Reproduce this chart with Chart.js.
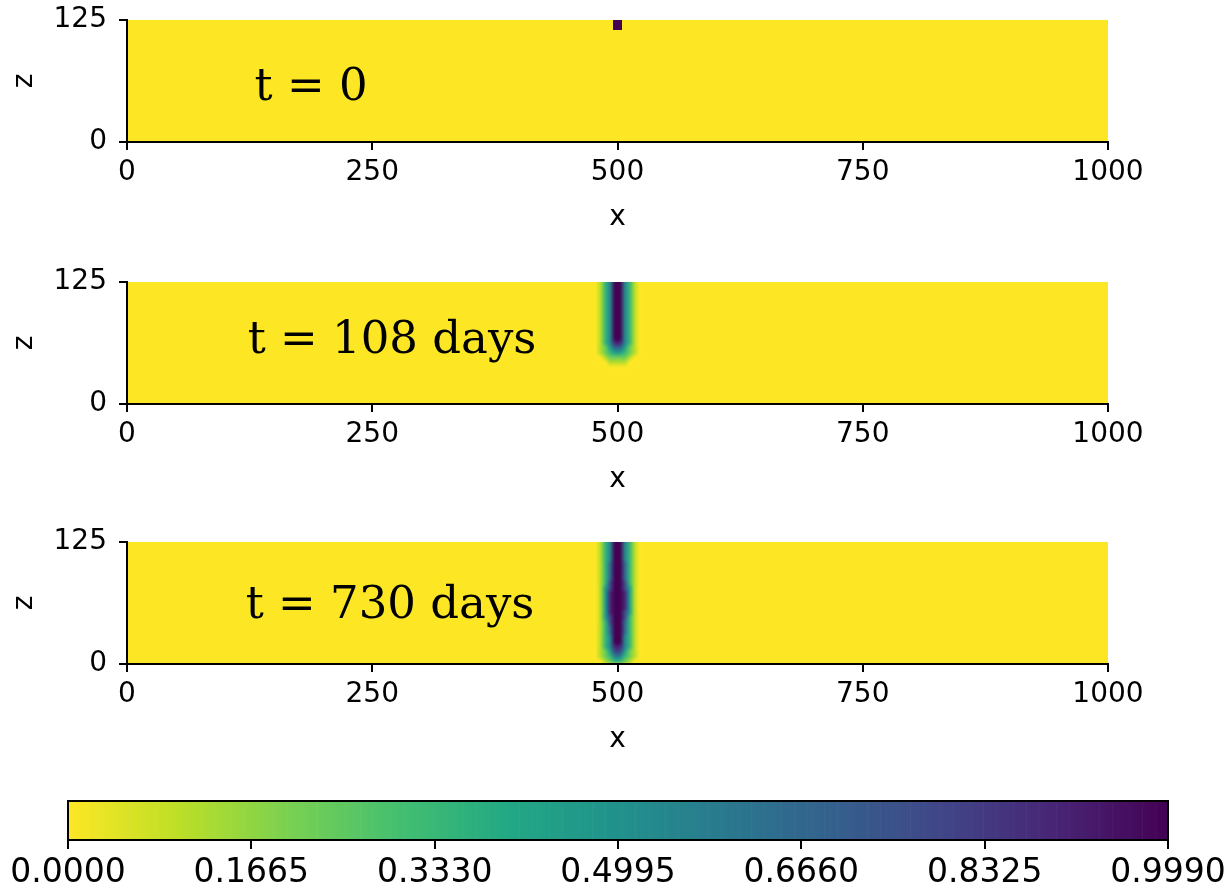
<!DOCTYPE html>
<html>
<head>
<meta charset="utf-8">
<script src="https://cdn.jsdelivr.net/npm/chart.js@4.4.1/dist/chart.umd.min.js"></script>
<style>
  html, body { margin: 0; padding: 0; background: #fff; }
  body { width: 1229px; height: 890px; position: relative; overflow: hidden; }
  .box { position: absolute; left: 0; width: 1229px; }
</style>
</head>
<body>
<div class="box" style="top:-9px;height:249px"><canvas id="panel0"></canvas></div>
<div class="box" style="top:253px;height:249px"><canvas id="panel1"></canvas></div>
<div class="box" style="top:513px;height:249px"><canvas id="panel2"></canvas></div>
<div class="box" style="top:780px;height:110px;width:1235px"><canvas id="colorbar"></canvas></div>
<script>
// axis ticks
const xTicks = [0, 250, 500, 750, 1000];
const zTicks = [0, 125];
const cbTicks = [0.0, 0.1665, 0.3330, 0.4995, 0.6660, 0.8325, 0.9990];

// panel annotations (text, position in data units: x of left edge, z of baseline)
const timeLabels = ['t = 0', 't = 108 days', 't = 730 days'];
const labelX = [130, 123, 121];
const labelZ = [43, 52, 47];

// plume cells near x = 500: columns start at x = 475, 5 units wide,
// rows go down from z = 125, 5 units high. Each digit is a level 0..9
// (0 = clean water, 9 = 0.999). Everything not listed is 0.
const plumeT0 = [
  '0000990000',
  '0000990000'
];
const plumeT108 = [
  '0135995310',
  '0135995310',
  '0135995310',
  '0135995310',
  '0135995310',
  '0135995310',
  '0135995310',
  '0135995310',
  '0135995310',
  '0135995310',
  '0135995310',
  '0135995310',
  '0135885310',
  '0124664210',
  '0123443210',
  '0012222100',
  '0001111000'
];
const plumeT730 = [
  '0135995310',
  '0135995310',
  '0135995310',
  '0135995310',
  '0136996310',
  '0136996310',
  '0136996310',
  '0136996310',
  '0137997310',
  '0147997410',
  '0148998410',
  '0148998410',
  '0148998410',
  '0148998410',
  '0148997410',
  '0147997310',
  '0137996310',
  '0136996310',
  '0136996310',
  '0135995310',
  '0135995310',
  '0135885310',
  '0124774210',
  '0123553210',
  '0012332100'
];
// interpolated drawing like imshow for the spread plumes, crisp for t = 0
const smoothPanels = [false, true, true];

const VMAX = 0.999;
const CELL_X0 = 475, CELL_W = 5, CELL_H = 5, Z_TOP = 125, GRID_COLS = 10;

// viridis, reversed below (0 -> yellow, VMAX -> dark purple)
const viridis = ['#440154', '#482475', '#414487', '#355f8d', '#2a788e', '#21918c',
                 '#22a884', '#44bf70', '#7ad151', '#bddf26', '#fde725'];

function hexToRgb(h) {
  return [parseInt(h.slice(1, 3), 16), parseInt(h.slice(3, 5), 16), parseInt(h.slice(5, 7), 16)];
}

function cmapRgb(v) {
  const t = 1 - Math.min(Math.max(v / VMAX, 0), 1);
  const p = t * (viridis.length - 1);
  const i = Math.min(Math.floor(p), viridis.length - 2);
  const f = p - i;
  const a = hexToRgb(viridis[i]), b = hexToRgb(viridis[i + 1]);
  return a.map((av, k) => Math.round(av + (b[k] - av) * f));
}

function cmap(v) {
  const c = cmapRgb(v);
  return `rgb(${c[0]},${c[1]},${c[2]})`;
}

function toCells(rows) {
  const cells = [];
  rows.forEach((row, r) => {
    row.split('').forEach((ch, c) => {
      const level = Number(ch);
      if (level === 0) return;
      cells.push({ x: CELL_X0 + c * CELL_W, y: Z_TOP - r * CELL_H, v: level / 9 * VMAX });
    });
  });
  return cells;
}

Chart.defaults.font.family = '"DejaVu Sans", sans-serif';
Chart.defaults.color = '#000';

// fill the field and the plume cells (drawn before the axes)
const heatmapPlugin = {
  id: 'heatmap',
  beforeDraw(chart, args, opts) {
    const { ctx, chartArea: a, scales: { x, y } } = chart;
    const cells = chart.data.datasets[0].data;
    ctx.save();
    ctx.beginPath();
    ctx.rect(a.left, a.top, a.right - a.left, a.bottom - a.top);
    ctx.clip();
    ctx.fillStyle = cmap(0);
    const bx0 = x.getPixelForValue(0), bx1 = x.getPixelForValue(1000);
    const by0 = y.getPixelForValue(125), by1 = y.getPixelForValue(0);
    ctx.fillRect(bx0, by0, bx1 - bx0, by1 - by0);

    if (opts.smooth) {
      // one pixel per cell, then scaled onto the axes with smoothing
      let nRows = 0;
      cells.forEach(d => { nRows = Math.max(nRows, Math.round((Z_TOP - d.y) / CELL_H) + 1); });
      nRows += 1;
      const off = document.createElement('canvas');
      off.width = GRID_COLS;
      off.height = nRows;
      const octx = off.getContext('2d');
      const img = octx.createImageData(GRID_COLS, nRows);
      const bg = cmapRgb(0);
      for (let k = 0; k < GRID_COLS * nRows; k++) {
        img.data[k * 4] = bg[0]; img.data[k * 4 + 1] = bg[1]; img.data[k * 4 + 2] = bg[2]; img.data[k * 4 + 3] = 255;
      }
      cells.forEach(d => {
        const c = Math.round((d.x - CELL_X0) / CELL_W);
        const r = Math.round((Z_TOP - d.y) / CELL_H);
        const rgb = cmapRgb(d.v);
        const k = (r * GRID_COLS + c) * 4;
        img.data[k] = rgb[0]; img.data[k + 1] = rgb[1]; img.data[k + 2] = rgb[2];
      });
      octx.putImageData(img, 0, 0);
      const px0 = x.getPixelForValue(CELL_X0);
      const px1 = x.getPixelForValue(CELL_X0 + GRID_COLS * CELL_W);
      const py0 = y.getPixelForValue(Z_TOP);
      const py1 = y.getPixelForValue(Z_TOP - nRows * CELL_H);
      ctx.imageSmoothingEnabled = true;
      ctx.imageSmoothingQuality = 'high';
      ctx.drawImage(off, px0, py0, px1 - px0, py1 - py0);
    } else {
      cells.forEach(d => {
        const x0 = Math.round(x.getPixelForValue(d.x));
        const x1 = Math.round(x.getPixelForValue(d.x + CELL_W));
        const y0 = Math.round(y.getPixelForValue(d.y));
        const y1 = Math.round(y.getPixelForValue(d.y - CELL_H));
        ctx.fillStyle = cmap(d.v);
        ctx.fillRect(x0, y0, x1 - x0, y1 - y0);
      });
    }
    ctx.restore();
  }
};

const timeLabelPlugin = {
  id: 'timeLabel',
  afterDraw(chart, args, opts) {
    const { ctx, scales: { x, y } } = chart;
    ctx.save();
    ctx.font = '45px "DejaVu Serif", serif';
    ctx.fillStyle = '#000';
    ctx.textAlign = 'left';
    ctx.textBaseline = 'alphabetic';
    ctx.fillText(opts.text, x.getPixelForValue(opts.x), y.getPixelForValue(opts.z));
    ctx.restore();
  }
};

function panelOptions(i) {
  return {
    responsive: true,
    maintainAspectRatio: false,
    animation: false,
    events: [],
    layout: { padding: { top: 28, right: 121, left: 0, bottom: 0 } },
    plugins: {
      legend: { display: false },
      tooltip: { enabled: false },
      heatmap: { smooth: smoothPanels[i] },
      timeLabel: { text: timeLabels[i], x: labelX[i], z: labelZ[i] }
    },
    scales: {
      x: {
        type: 'linear', min: 0, max: 1000,
        afterBuildTicks: s => { s.ticks = xTicks.map(v => ({ value: v })); },
        afterFit: s => { s.height = 98; },
        grid: { drawOnChartArea: false, tickLength: 8, color: '#000', lineWidth: 2 },
        border: { color: '#000', width: 2 },
        ticks: { padding: 6, font: { size: 28 }, color: '#000', maxRotation: 0, autoSkip: false,
                 callback: v => String(v) },
        title: { display: true, text: 'x', font: { size: 28 }, color: '#000', padding: { top: 0, bottom: 5 } }
      },
      y: {
        type: 'linear', min: 0, max: 125,
        afterBuildTicks: s => { s.ticks = zTicks.map(v => ({ value: v })); },
        afterFit: s => { s.width = 127; },
        grid: { drawOnChartArea: false, tickLength: 8, color: '#000', lineWidth: 2 },
        border: { color: '#000', width: 2 },
        ticks: { padding: 12, font: { size: 28 }, color: '#000', autoSkip: false,
                 callback: v => String(v) },
        title: { display: true, text: 'z', font: { size: 28 }, color: '#000', padding: { top: 8, bottom: 0 } }
      }
    }
  };
}

const plumes = [plumeT0, plumeT108, plumeT730];
plumes.forEach((rows, i) => {
  new Chart(document.getElementById('panel' + i), {
    type: 'scatter',
    data: { datasets: [{ data: toCells(rows), pointRadius: 0 }] },
    options: panelOptions(i),
    plugins: [heatmapPlugin, timeLabelPlugin]
  });
});

// colorbar
const colorbarPlugin = {
  id: 'colorbarFill',
  beforeDraw(chart) {
    const { ctx, chartArea: a, scales: { x } } = chart;
    const steps = 256;
    ctx.save();
    for (let k = 0; k < steps; k++) {
      const v0 = VMAX * k / steps, v1 = VMAX * (k + 1) / steps;
      const px0 = x.getPixelForValue(v0), px1 = x.getPixelForValue(v1);
      ctx.fillStyle = cmap((v0 + v1) / 2);
      ctx.fillRect(px0, a.top, px1 - px0 + 0.6, a.bottom - a.top);
    }
    ctx.restore();
  },
  afterDraw(chart) {
    const { ctx, chartArea: a } = chart;
    ctx.save();
    ctx.strokeStyle = '#000';
    ctx.lineWidth = 2;
    ctx.strokeRect(a.left, a.top, a.right - a.left, a.bottom - a.top);
    ctx.restore();
  }
};

new Chart(document.getElementById('colorbar'), {
  type: 'scatter',
  data: { datasets: [{ data: [], pointRadius: 0 }] },
  options: {
    responsive: true,
    maintainAspectRatio: false,
    animation: false,
    events: [],
    layout: { padding: { top: 21, right: 67, left: 68, bottom: 0 } },
    plugins: { legend: { display: false }, tooltip: { enabled: false } },
    scales: {
      x: {
        type: 'linear', min: 0, max: VMAX,
        afterBuildTicks: s => { s.ticks = cbTicks.map(v => ({ value: v })); },
        afterFit: s => { s.height = 50; },
        grid: { drawOnChartArea: false, tickLength: 9, color: '#000', lineWidth: 2 },
        border: { color: '#000', width: 2 },
        ticks: { padding: 5, font: { size: 33 }, color: '#000', maxRotation: 0, autoSkip: false,
                 callback: v => Number(v).toFixed(4) }
      },
      y: { display: false, min: 0, max: 1 }
    }
  },
  plugins: [colorbarPlugin]
});
</script>
</body>
</html>
